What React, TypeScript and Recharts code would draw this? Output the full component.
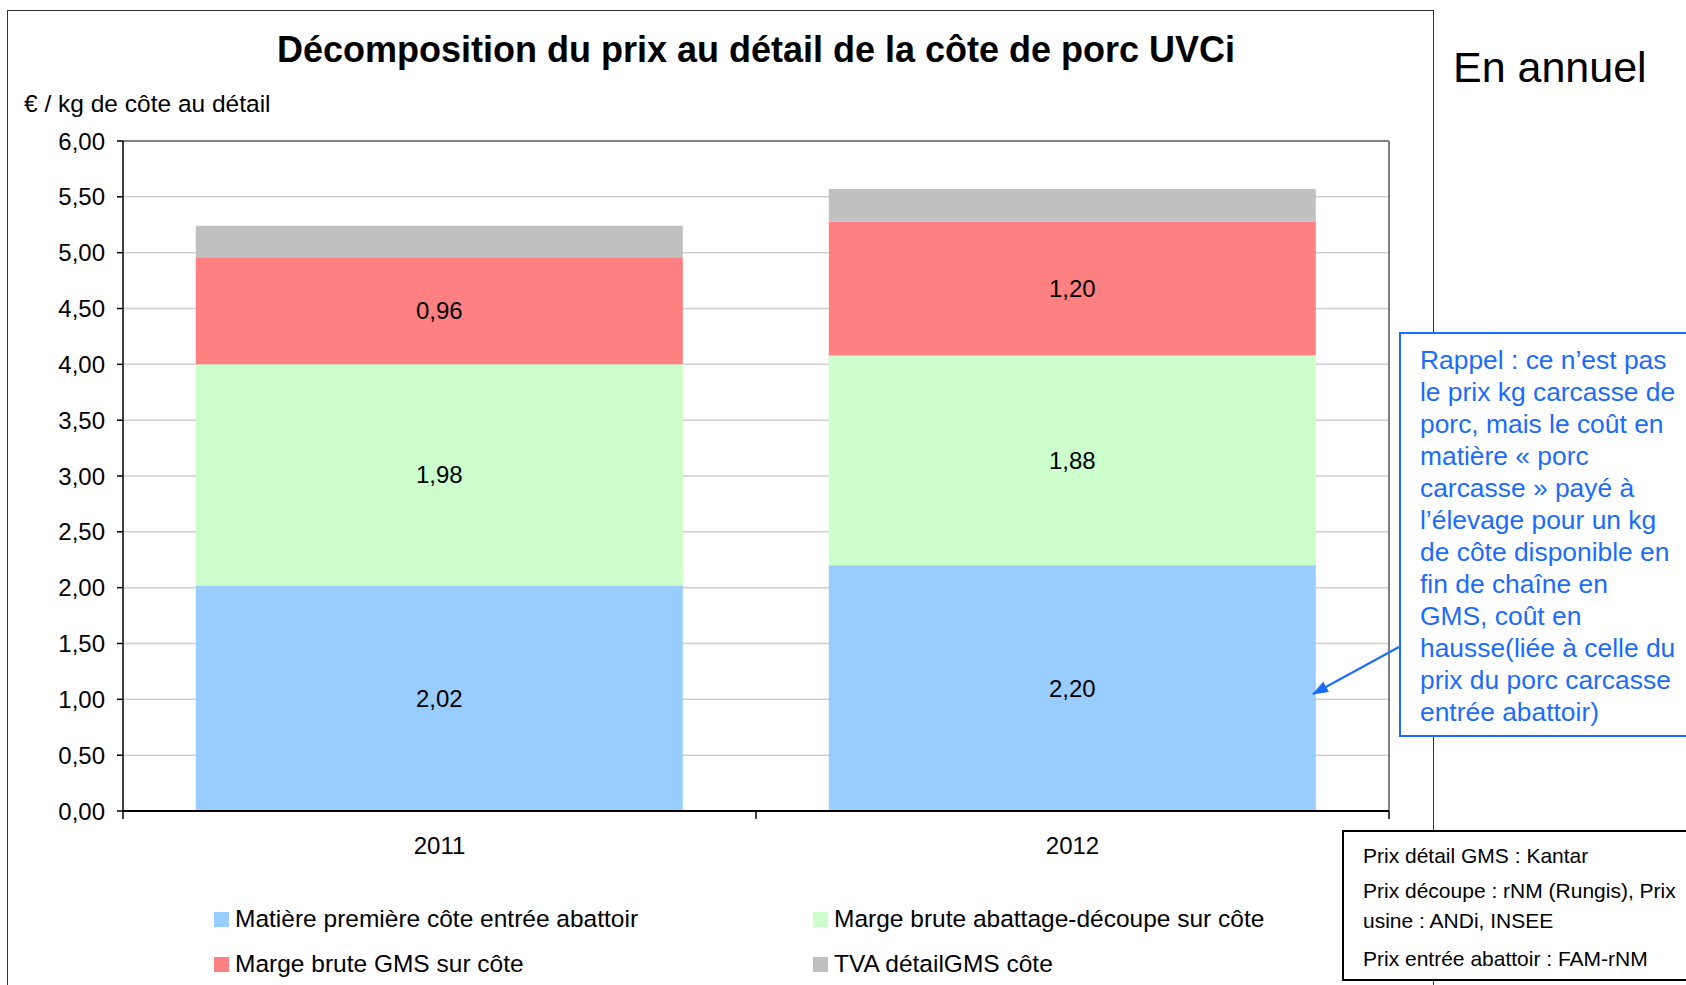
import React from 'react';
import { BarChart, Bar, XAxis, YAxis, CartesianGrid, LabelList, ReferenceArea } from 'recharts';

const years = ['2011', '2012'];
const matierePremiere = [2.02, 2.2];
const margeAbattage = [1.98, 1.88];
const margeGms = [0.96, 1.2];
const tvaDetail = [0.28, 0.29];
const yTicks = [0, 0.5, 1, 1.5, 2, 2.5, 3, 3.5, 4, 4.5, 5, 5.5, 6];

const noteLines = [
  'Rappel : ce n’est pas',
  'le prix kg carcasse de',
  'porc, mais le coût en',
  'matière « porc',
  'carcasse » payé à',
  'l’élevage pour un kg',
  'de côte disponible en',
  'fin de chaîne en',
  'GMS, coût en',
  'hausse(liée à celle du',
  'prix du porc carcasse',
  'entrée abattoir)',
];

const sources = [
  ['Prix détail GMS : Kantar'],
  ['Prix découpe : rNM (Rungis), Prix', 'usine : ANDi, INSEE'],
  ['Prix entrée abattoir : FAM-rNM'],
];

const series = [
  { key: 'matiere', name: 'Matière première côte entrée abattoir', color: '#99CCFF', values: matierePremiere, showLabel: true },
  { key: 'abattage', name: 'Marge brute abattage-découpe sur côte', color: '#CCFFCC', values: margeAbattage, showLabel: true },
  { key: 'gms', name: 'Marge brute GMS sur côte', color: '#FF8080', values: margeGms, showLabel: true },
  { key: 'tva', name: 'TVA détailGMS côte', color: '#C0C0C0', values: tvaDetail, showLabel: false },
];

const data = years.map((year, i) => {
  const row: Record<string, string | number> = { year };
  series.forEach((s) => {
    row[s.key] = s.values[i];
  });
  return row;
});

const FONT = '"Liberation Sans", Arial, sans-serif';
const BLUE = '#1a6cff';

const fmt = (v: any) => Number(v).toFixed(2).replace('.', ',');

// tick marks on the category boundaries, drawn from the band of each category
const BoundaryTicks = (props: any) => {
  const { x, y, width, height, last } = props;
  const base = y + height;
  return (
    <g>
      <line x1={x} y1={base} x2={x} y2={base + 8} stroke="#000" strokeWidth={1.5} />
      {last && <line x1={x + width} y1={base} x2={x + width} y2={base + 8} stroke="#000" strokeWidth={1.5} />}
    </g>
  );
};

// grey frame on top and right of the plot area
const PlotFrame = (props: any) => {
  const { x, y, width, height } = props;
  return (
    <g>
      <line x1={x} y1={y} x2={x + width} y2={y} stroke="#808080" strokeWidth={2} />
      <line x1={x + width} y1={y} x2={x + width} y2={y + height} stroke="#808080" strokeWidth={2} />
    </g>
  );
};

export default function App() {
  return (
    <div style={{ position: 'absolute', left: 0, top: 0, width: 1686, height: 985, overflow: 'hidden', background: '#fff', fontFamily: FONT }}>
      <div style={{ position: 'absolute', left: 7, top: 10, width: 1427, height: 1000, border: '1.5px solid #333', boxSizing: 'border-box' }} />

      <div style={{ position: 'absolute', left: 0, top: 29, width: 1512, textAlign: 'center', fontSize: 36, fontWeight: 'bold', lineHeight: '42px' }}>
        Décomposition du prix au détail de la côte de porc UVCi
      </div>
      <div style={{ position: 'absolute', left: 24, top: 90, fontSize: 24.5, lineHeight: '28px' }}>€ / kg de côte au détail</div>

      <div style={{ position: 'absolute', left: 0, top: 0 }}>
        <BarChart width={1434} height={985} data={data} margin={{ top: 141, right: 45, bottom: 114, left: 23 }} barCategoryGap="11.5%">
          <CartesianGrid vertical={false} stroke="#D0D0D0" strokeWidth={1.5} />
          <XAxis
            dataKey="year"
            height={60}
            interval={0}
            tickLine={false}
            tickSize={0}
            tickMargin={26}
            axisLine={{ stroke: '#000', strokeWidth: 2 }}
            tick={{ fontSize: 24, fill: '#000', fontFamily: FONT }}
          />
          <YAxis
            domain={[0, 6]}
            ticks={yTicks}
            interval={0}
            width={100}
            tickFormatter={fmt}
            tickSize={6}
            tickMargin={12}
            axisLine={{ stroke: '#000', strokeWidth: 1.5 }}
            tickLine={{ stroke: '#000', strokeWidth: 1.5 }}
            tick={{ fontSize: 24, fill: '#000', fontFamily: FONT }}
          />
          {series.map((s) => (
            <Bar key={s.key} dataKey={s.key} name={s.name} stackId="a" fill={s.color} isAnimationActive={false}>
              {s.showLabel && (
                <LabelList dataKey={s.key} position="center" formatter={fmt} fill="#000" fontSize={24} fontFamily={FONT} />
              )}
            </Bar>
          ))}
          <ReferenceArea x1={years[0]} x2={years[years.length - 1]} y1={0} y2={6} shape={(p: any) => <PlotFrame {...p} />} />
          {years.map((yr, i) => (
            <ReferenceArea
              key={yr}
              x1={yr}
              x2={yr}
              y1={0}
              y2={6}
              ifOverflow="visible"
              shape={(p: any) => <BoundaryTicks {...p} last={i === years.length - 1} />}
            />
          ))}
        </BarChart>
      </div>

      {series.map((s, i) => {
        const col = i % 2;
        const row = Math.floor(i / 2);
        const left = col === 0 ? 214 : 813;
        const cy = row === 0 ? 919 : 964;
        return (
          <div key={s.key} style={{ position: 'absolute', left, top: cy - 14, height: 28, display: 'flex', alignItems: 'center', fontSize: 24.5, whiteSpace: 'nowrap' }}>
            <span style={{ display: 'inline-block', width: 15, height: 15, background: s.color, marginRight: 6 }} />
            <span>{s.name}</span>
          </div>
        );
      })}

      <div style={{ position: 'absolute', left: 1453, top: 46, fontSize: 43, lineHeight: '43px' }}>En annuel</div>

      <div style={{ position: 'absolute', left: 1399, top: 332, width: 287, height: 405, borderTop: `2px solid ${BLUE}`, borderLeft: `2px solid ${BLUE}`, borderBottom: `2px solid ${BLUE}`, boxSizing: 'border-box', background: '#fff', color: BLUE, fontSize: 26.4, lineHeight: '32px', padding: '10px 0 0 19px', whiteSpace: 'nowrap' }}>
        {noteLines.map((l, i) => (
          <div key={i}>{l}</div>
        ))}
      </div>

      <svg width={1686} height={985} style={{ position: 'absolute', left: 0, top: 0, pointerEvents: 'none' }}>
        <defs>
          <marker id="arr" markerWidth="16" markerHeight="12" refX="15" refY="6" orient="auto" markerUnits="userSpaceOnUse">
            <path d="M0,0 L16,6 L0,12 z" fill={BLUE} />
          </marker>
        </defs>
        <line x1={1399} y1={647} x2={1313} y2={694} stroke={BLUE} strokeWidth={2} markerEnd="url(#arr)" />
      </svg>

      <div style={{ position: 'absolute', left: 1342, top: 830, width: 344, height: 151, borderTop: '2.5px solid #000', borderLeft: '2.5px solid #000', borderBottom: '2.5px solid #000', boxSizing: 'border-box', background: '#fff', fontSize: 21, lineHeight: '30px', padding: '9px 0 0 19px', whiteSpace: 'nowrap' }}>
        {sources.map((p, i) => (
          <div key={i} style={{ marginTop: i === 0 ? 0 : i === 1 ? 5 : 8 }}>
            {p.map((l, j) => (
              <div key={j}>{l}</div>
            ))}
          </div>
        ))}
      </div>
    </div>
  );
}
